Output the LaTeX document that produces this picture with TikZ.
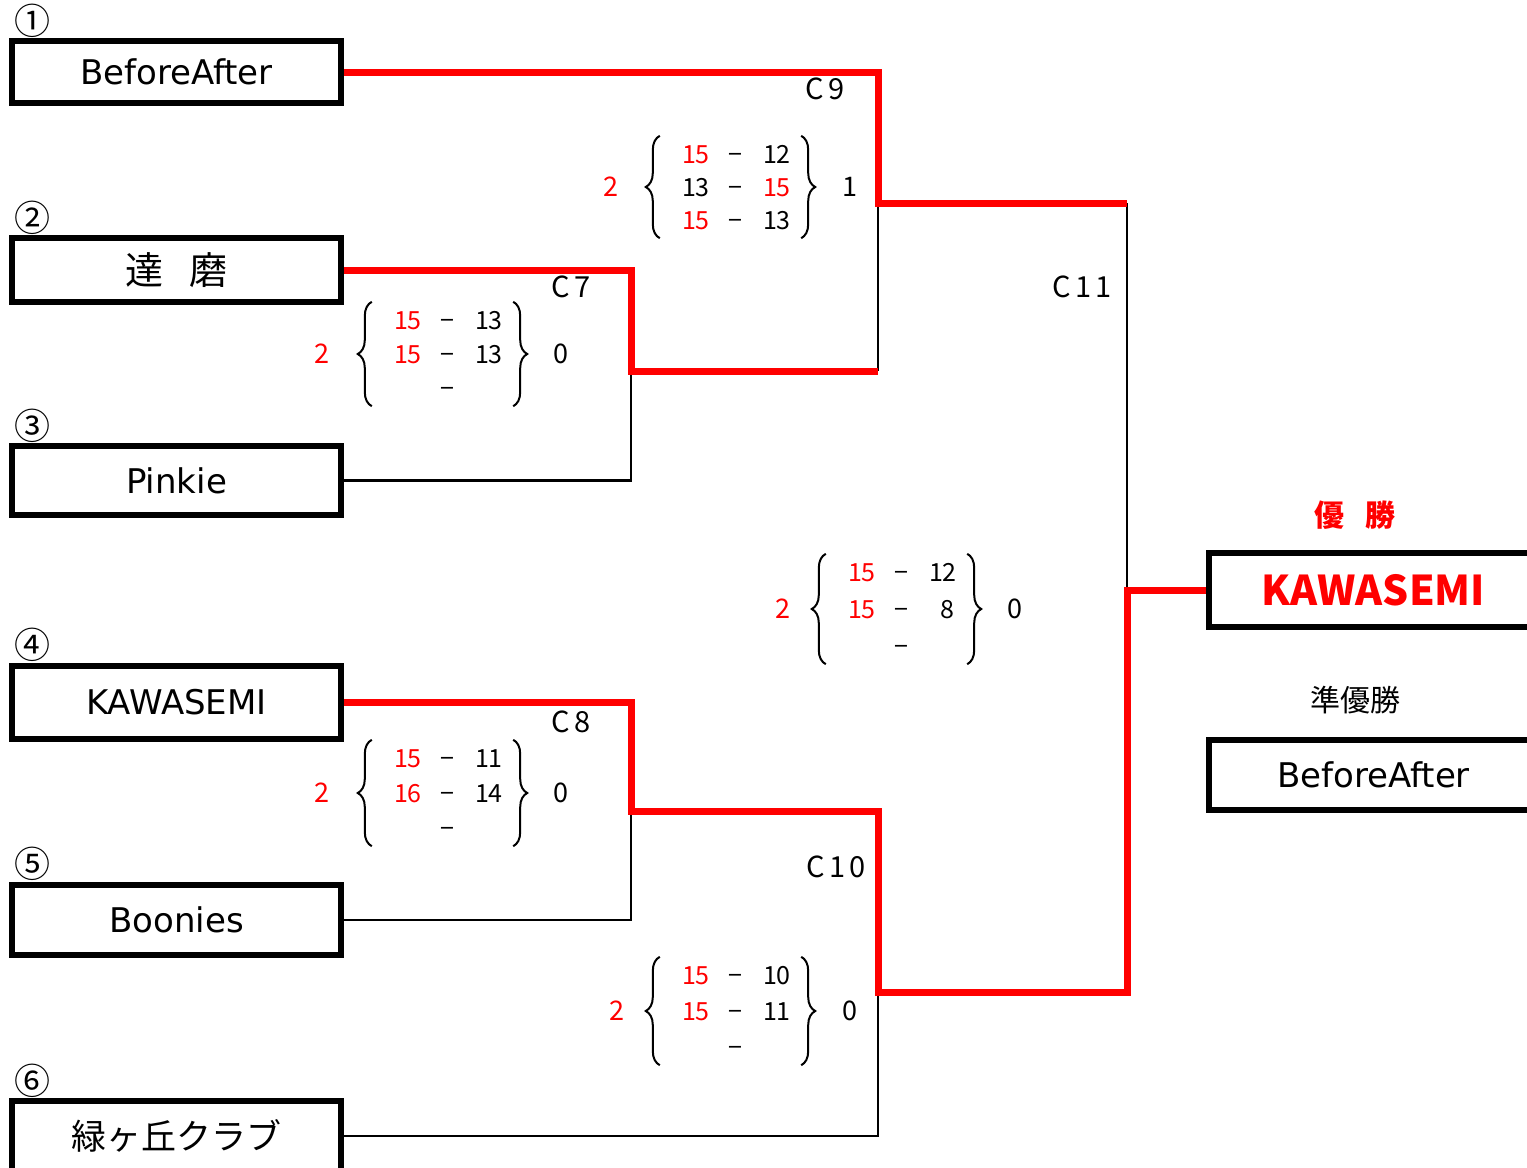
\documentclass[tikz,border=0pt]{standalone}
\usepackage{fontspec}
\setmainfont{Noto Sans CJK JP}
\newfontfamily\dejavu{DejaVu Sans}
\newfontfamily\spaced[LetterSpace=14]{Noto Sans CJK JP}
\usetikzlibrary{matrix,decorations.pathreplacing}

\newcommand{\teamfont}{\dejavu\fontsize{34}{34}\selectfont}
\newcommand{\kanjifont}{\fontsize{38}{38}\selectfont}
\newcommand{\numfont}{\fontsize{36}{36}\selectfont}
\newcommand{\scorefont}{\fontsize{25}{25}\selectfont}
\newcommand{\countfont}{\fontsize{27}{27}\selectfont}
\newcommand{\roundfont}{\spaced\fontsize{29}{29}\selectfont}
\newcommand{\titlefont}{\fontsize{30}{30}\selectfont}

\begin{document}
\begin{tikzpicture}[x=1pt,y=-1pt]
	\tikzstyle{team_style} = [draw=black,line width=6pt,minimum width=329pt,inner sep=0pt,font=\teamfont]
	\tikzstyle{num_style} = [font=\numfont,inner sep=0pt]
	\tikzstyle{round_style} = [font=\roundfont,inner sep=0pt]
	\tikzstyle{count_style} = [font=\countfont,inner sep=0pt]
	\tikzstyle{win_style} = [draw=red,line width=7pt]
	\tikzstyle{lose_style} = [draw=black,line width=2.5pt]
	\tikzstyle{brace_style} = [decorate,decoration={brace,amplitude=14pt},line width=2pt]
	\tikzstyle{score_style} = [matrix of nodes,inner sep=0pt,column sep=0pt,row sep=16pt,
		nodes={inner sep=0pt,text height=18pt,text depth=0pt,font=\scorefont},
		column 1/.style={nodes={text width=25pt,align=right}},
		column 2/.style={nodes={text width=56pt,align=center}},
		column 3/.style={nodes={text width=25pt,align=right}}]

	\useasboundingbox (0,0) rectangle (1527,1168);
	\clip (0,0) rectangle (1527,1168);

	% teams
	\node[team_style,minimum height=62pt] (t1) at (176.5,72) {BeforeAfter};
	\node[team_style,minimum height=64pt,font=\kanjifont] (t2) at (176.5,270) {達\hspace{26pt}磨};
	\node[team_style,minimum height=69pt] (t3) at (176.5,480.5) {Pinkie};
	\node[team_style,minimum height=73pt] (t4) at (176.5,702.5) {KAWASEMI};
	\node[team_style,minimum height=70pt] (t5) at (176.5,920) {Boonies};
	\node[team_style,minimum height=70pt,font=\fontsize{35}{35}\selectfont] (t6) at (176.5,1136) {緑ヶ丘クラブ};

	\node[num_style] (n1) at (33,21) {①};
	\node[num_style] (n2) at (33,218) {②};
	\node[num_style] (n3) at (33,426) {③};
	\node[num_style] (n4) at (33,645) {④};
	\node[num_style] (n5) at (33,864) {⑤};
	\node[num_style] (n6) at (33,1081) {⑥};

	% result
	\node[font=\titlefont\bfseries,text=red] (first) at (1355,515) {優\hspace{21pt}勝};
	\node[team_style,minimum height=74pt,text=red,font=\fontsize{41}{41}\selectfont\bfseries] (win) at (1373.5,590) {KAWASEMI};
	\node[font=\titlefont] (second) at (1355,700) {準優勝};
	\node[team_style,minimum height=70pt] (ru) at (1373.5,775) {BeforeAfter};

	% rounds
	\node[round_style] (r7) at (571,287) {C7};
	\node[round_style] (r8) at (571,722) {C8};
	\node[round_style] (r9) at (825,89) {C9};
	\node[round_style] (r10) at (836,867) {C10};
	\node[round_style] (r11) at (1082,287) {C11};

	\coordinate (j7) at (631,371);
	\coordinate (j8) at (631,811);
	\coordinate (j9) at (878,203);
	\coordinate (j10) at (878,992);
	\coordinate (j11) at (1127,590);

	% losers
	\draw[lose_style] (t3.east) -| (j7);
	\draw[lose_style] (t5.east) -| (j8);
	\draw[lose_style] (t6.east) -| (j10);
	\draw[lose_style] (j7 -| j9) -- (j9);
	\draw[lose_style] (j9 -| j11) -- (j11);
	% winners
	\draw[win_style] (t1.east) -| (j9) -- (j9 -| j11);
	\draw[win_style] (t2.east) -| (j7) -- (j7 -| j9);
	\draw[win_style] (t4.east) -| (j8) -- (j8 -| j10) -- (j10) -- (j10 -| j11) -- (j11) -- (win.west);

	% scores
	\matrix[score_style] (s7) at (447,354) {
		|[text=red]| 15 & − & 13 \\
		|[text=red]| 15 & − & 13 \\
		& − & \\
	};
	\matrix[score_style,row sep=17pt] (s8) at (447,793) {
		|[text=red]| 15 & − & 11 \\
		|[text=red]| 16 & − & 14 \\
		& − & \\
	};
	\matrix[score_style,row sep=15pt] (s9) at (735,187) {
		|[text=red]| 15 & − & 12 \\
		13 & − & |[text=red]| 15 \\
		|[text=red]| 15 & − & 13 \\
	};
	\matrix[score_style,row sep=18pt] (s10) at (735,1011) {
		|[text=red]| 15 & − & 10 \\
		|[text=red]| 15 & − & 11 \\
		& − & \\
	};
	\matrix[score_style,row sep=19pt] (s11) at (901,609) {
		|[text=red]| 15 & − & 12 \\
		|[text=red]| 15 & − & 8 \\
		& − & \\
	};

	\foreach \s in {s7,s8,s9,s10,s11} {
		\draw[brace_style] ([xshift=-22pt,yshift=-9pt]\s.south west) -- ([xshift=-22pt,yshift=9pt]\s.north west);
		\draw[brace_style] ([xshift=13pt,yshift=9pt]\s.north east) -- ([xshift=13pt,yshift=-9pt]\s.south east);
	}

	\node[count_style,text=red] (c7l) at (322,354) {2};
	\node[count_style] (c7r) at (561,354) {0};
	\node[count_style,text=red] (c8l) at (322,793) {2};
	\node[count_style] (c8r) at (561,793) {0};
	\node[count_style,text=red] (c9l) at (611,187) {2};
	\node[count_style] (c9r) at (850,187) {1};
	\node[count_style,text=red] (c10l) at (617,1011) {2};
	\node[count_style] (c10r) at (850,1011) {0};
	\node[count_style,text=red] (c11l) at (783,609) {2};
	\node[count_style] (c11r) at (1015,609) {0};
\end{tikzpicture}
\end{document}
